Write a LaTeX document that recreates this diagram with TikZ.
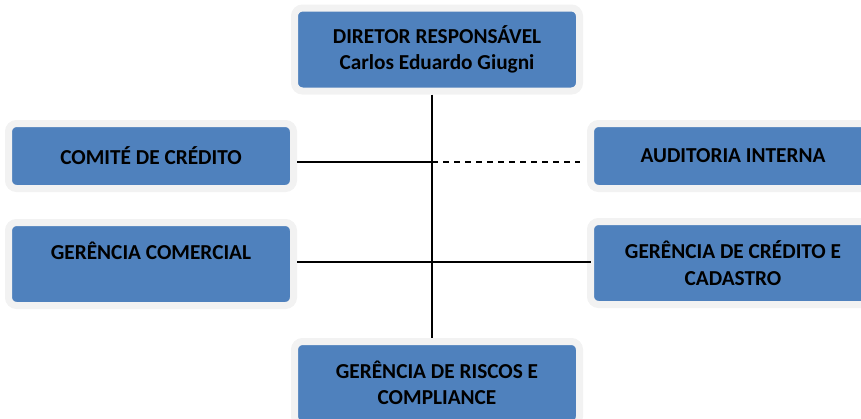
\documentclass[tikz,border=0pt]{standalone}
\usepackage{fontspec}
\setmainfont{Carlito}
\definecolor{boxblue}{HTML}{4F81BD}
\definecolor{rimgray}{HTML}{F2F2F2}
\begin{document}
\begin{tikzpicture}[x=1pt,y=-1pt,
  orgbox/.style={draw=rimgray, line width=7pt, fill=boxblue, rounded corners=8pt,
    minimum width=285pt, align=center, inner sep=0pt,
    font=\fontsize{21.3}{26.5}\selectfont\bfseries, text=black},
  tall/.style={minimum height=83pt},
  short/.style={minimum height=65pt},
  link/.style={line width=1.2pt, black}]
\useasboundingbox (0,0) rectangle (861,418);
\clip (0,0) rectangle (861,418);
\node[orgbox,tall] (dir) at (437,49.5) {DIRETOR RESPONSÁVEL\\Carlos Eduardo Giugni};
\node[orgbox,short] (com) at (151,156) {COMITÉ DE CRÉDITO};
\node[orgbox,short] (aud) at (733,156) {AUDITORIA INTERNA};
\node[orgbox,tall] (gcom) at (151,264) {GERÊNCIA COMERCIAL\\\mbox{}};
\node[orgbox,tall] (gcred) at (733,263) {GERÊNCIA DE CRÉDITO E\\CADASTRO};
\node[orgbox,tall] (grc) at (437,383) {GERÊNCIA DE RISCOS E\\COMPLIANCE};
\coordinate (r1) at (432,162);
\coordinate (r2) at (432,262);
\draw[link] (dir.south -| r1) -- (grc.north -| r1);
\draw[link] (com.east |- r1) -- (r1);
\draw[link, dash pattern=on 6pt off 5pt] (r1) -- ([xshift=-7pt]aud.west |- r1);
\draw[link] (gcom.east |- r2) -- ([xshift=4pt]gcred.west |- r2);
\end{tikzpicture}
\end{document}
